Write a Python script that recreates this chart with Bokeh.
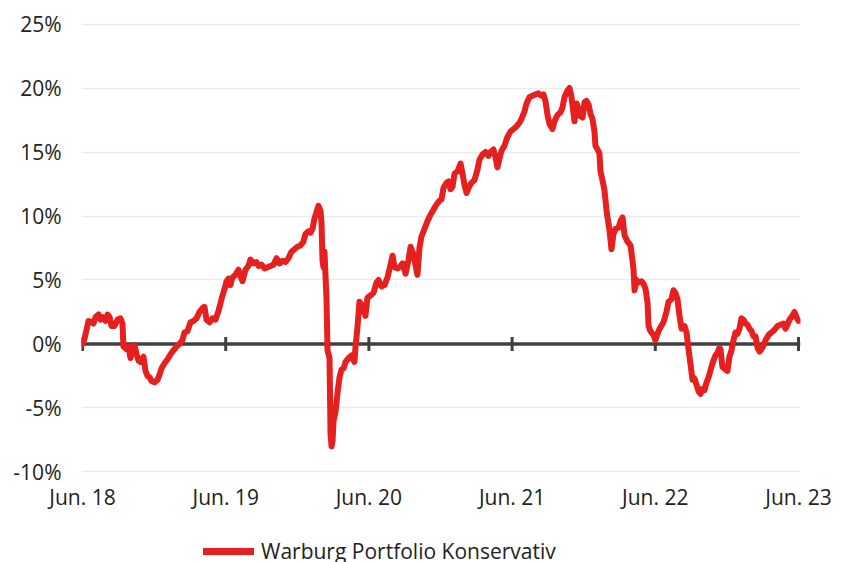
from bokeh.plotting import figure
from bokeh.layouts import column
from bokeh.models import FixedTicker, Legend, LegendItem, Span
from bokeh.embed import file_html
from bokeh.resources import INLINE

# x: years since end of June 2018, y: cumulative performance in %
years_since_jun18 = [
    0.000, 0.014, 0.028, 0.042, 0.063, 0.077, 0.091, 0.112, 0.126, 0.140,
    0.161, 0.175, 0.189, 0.203, 0.223, 0.244, 0.265, 0.279, 0.286, 0.307,
    0.321, 0.335, 0.349, 0.363, 0.377, 0.391, 0.405, 0.426, 0.440, 0.454,
    0.468, 0.482, 0.503, 0.524, 0.538, 0.552, 0.573, 0.594, 0.615, 0.635,
    0.656, 0.677, 0.698, 0.712, 0.733, 0.754, 0.775, 0.796, 0.817, 0.838,
    0.852, 0.866, 0.887, 0.908, 0.929, 0.950, 0.964, 0.978, 0.992, 1.006,
    1.020, 1.033, 1.047, 1.068, 1.089, 1.103, 1.117, 1.138, 1.159, 1.173,
    1.194, 1.215, 1.229, 1.250, 1.271, 1.292, 1.313, 1.334, 1.355, 1.376,
    1.397, 1.418, 1.438, 1.459, 1.480, 1.501, 1.522, 1.543, 1.557, 1.578,
    1.592, 1.606, 1.620, 1.634, 1.648, 1.662, 1.669, 1.676, 1.683, 1.690,
    1.704, 1.711, 1.725, 1.732, 1.739, 1.746, 1.753, 1.767, 1.781, 1.795,
    1.809, 1.823, 1.837, 1.858, 1.878, 1.899, 1.906, 1.920, 1.934, 1.948,
    1.962, 1.976, 1.990, 2.011, 2.032, 2.053, 2.067, 2.088, 2.109, 2.130,
    2.151, 2.165, 2.179, 2.200, 2.221, 2.235, 2.256, 2.277, 2.291, 2.311,
    2.325, 2.339, 2.353, 2.367, 2.388, 2.409, 2.430, 2.451, 2.472, 2.493,
    2.507, 2.521, 2.542, 2.556, 2.570, 2.584, 2.598, 2.619, 2.640, 2.654,
    2.668, 2.682, 2.696, 2.716, 2.737, 2.758, 2.772, 2.793, 2.814, 2.835,
    2.849, 2.870, 2.884, 2.898, 2.912, 2.926, 2.947, 2.968, 2.989, 3.010,
    3.031, 3.052, 3.066, 3.087, 3.101, 3.122, 3.142, 3.163, 3.184, 3.205,
    3.219, 3.233, 3.247, 3.261, 3.282, 3.296, 3.317, 3.338, 3.352, 3.366,
    3.387, 3.401, 3.415, 3.429, 3.436, 3.450, 3.464, 3.478, 3.492, 3.506,
    3.520, 3.534, 3.547, 3.561, 3.575, 3.582, 3.596, 3.610, 3.617, 3.631,
    3.645, 3.659, 3.666, 3.680, 3.694, 3.708, 3.722, 3.743, 3.757, 3.771,
    3.785, 3.806, 3.827, 3.841, 3.848, 3.855, 3.869, 3.883, 3.904, 3.918,
    3.932, 3.946, 3.953, 3.966, 3.987, 4.001, 4.022, 4.036, 4.057, 4.078,
    4.092, 4.113, 4.127, 4.141, 4.155, 4.169, 4.183, 4.204, 4.218, 4.232,
    4.246, 4.260, 4.274, 4.288, 4.302, 4.316, 4.330, 4.344, 4.358, 4.372,
    4.392, 4.406, 4.420, 4.434, 4.448, 4.455, 4.469, 4.490, 4.504, 4.518,
    4.532, 4.546, 4.560, 4.574, 4.588, 4.602, 4.616, 4.630, 4.644, 4.658,
    4.672, 4.686, 4.700, 4.714, 4.728, 4.742, 4.756, 4.770, 4.791, 4.811,
    4.832, 4.853, 4.874, 4.895, 4.909, 4.923, 4.937, 4.951, 4.972, 4.986,
    5.000,
]

portfolio_pct = [
    0.0, 0.4, 1.1, 1.8, 1.7, 1.6, 2.1, 2.3, 1.9, 2.1,
    1.8, 2.3, 2.1, 1.4, 1.4, 1.9, 2.0, 1.6, -0.2, -0.4,
    -0.2, -1.1, -0.3, -0.1, -0.8, -1.3, -1.4, -1.0, -2.1, -2.5,
    -2.6, -2.9, -3.0, -2.8, -2.4, -1.9, -1.5, -1.2, -0.8, -0.5,
    -0.2, 0.0, 0.3, 0.9, 1.0, 1.7, 1.8, 2.0, 2.5, 2.8,
    2.9, 1.9, 1.7, 2.0, 1.9, 2.6, 3.2, 3.8, 4.3, 4.9,
    5.1, 4.6, 5.2, 5.4, 5.8, 5.3, 4.9, 5.8, 6.1, 6.6,
    6.3, 6.4, 6.1, 6.2, 5.9, 6.0, 6.1, 6.2, 6.7, 6.3,
    6.5, 6.4, 6.7, 7.2, 7.4, 7.6, 7.7, 8.0, 8.6, 8.8,
    8.7, 9.0, 9.8, 10.3, 10.8, 10.4, 9.5, 6.5, 6.0, 7.2,
    3.5, -0.5, -1.1, -7.0, -8.0, -7.6, -6.0, -5.3, -3.8, -2.6,
    -2.0, -1.9, -1.4, -1.1, -0.9, -1.4, -0.3, 1.3, 3.3, 3.1,
    2.6, 2.2, 3.6, 3.8, 4.0, 4.8, 5.0, 4.5, 4.6, 5.2,
    6.2, 6.9, 6.0, 5.9, 6.1, 6.3, 5.5, 6.6, 7.6, 7.0,
    6.2, 5.4, 7.5, 8.4, 9.0, 9.6, 10.1, 10.5, 10.9, 11.2,
    11.3, 12.2, 12.6, 12.7, 12.1, 12.3, 13.3, 13.5, 14.1, 13.3,
    12.4, 11.8, 12.2, 12.6, 12.8, 13.6, 14.4, 14.8, 15.0, 14.7,
    15.0, 15.2, 14.6, 13.8, 14.5, 15.1, 15.5, 16.2, 16.6, 16.8,
    17.0, 17.3, 17.6, 18.2, 18.8, 19.3, 19.4, 19.5, 19.6, 19.4,
    19.5, 19.0, 17.9, 17.2, 16.8, 17.4, 17.9, 18.1, 18.5, 19.3,
    19.8, 20.0, 19.3, 18.0, 17.4, 18.8, 18.4, 17.8, 17.7, 18.9,
    19.0, 18.7, 18.0, 17.6, 16.6, 15.5, 15.2, 14.9, 13.5, 12.8,
    12.0, 10.5, 9.9, 8.9, 7.4, 8.6, 9.0, 9.1, 9.6, 9.9,
    8.5, 8.0, 7.7, 6.5, 5.8, 4.2, 5.0, 4.8, 4.9, 4.7,
    4.3, 3.2, 1.4, 1.0, 0.7, 0.3, 1.0, 1.3, 1.7, 2.5,
    3.3, 3.5, 4.2, 4.0, 3.5, 2.2, 1.2, 1.4, 0.9, -0.4,
    -1.6, -2.8, -2.7, -3.2, -3.7, -3.9, -3.5, -3.6, -3.0, -2.6,
    -1.8, -1.3, -0.9, -0.7, -0.3, -0.4, -1.8, -2.0, -2.1, -1.0,
    -0.5, 0.3, 0.9, 0.8, 1.2, 2.0, 1.9, 1.6, 1.5, 1.2,
    1.0, 0.6, 0.6, -0.3, -0.6, -0.4, -0.1, 0.3, 0.7, 0.9,
    1.1, 1.4, 1.5, 1.6, 1.2, 1.5, 1.9, 2.1, 2.5, 2.1,
    1.8,
]

x_tick_pos = [0, 1, 2, 3, 4, 5]
x_tick_labels = ["Jun. 18", "Jun. 19", "Jun. 20", "Jun. 21", "Jun. 22", "Jun. 23"]
y_tick_pos = [-10, -5, 0, 5, 10, 15, 20, 25]
y_tick_labels = ["-10%", "-5%", "0%", "5%", "10%", "15%", "20%", "25%"]
series_name = "Warburg Portfolio Konservativ"

FONT = "Open Sans"
TEXT = "#222222"
RED = "#e5201e"
DARK = "#404040"

# ---- main chart ----
p = figure(width=842, height=530, x_range=(-0.007, 5.014), y_range=(-10.2, 25.2),
           output_backend="svg", toolbar_location=None,
           min_border_left=81, min_border_right=42, min_border_top=21, min_border_bottom=56)
p.outline_line_color = None
p.background_fill_color = "white"
p.border_fill_color = "white"

p.xgrid.grid_line_color = None
p.ygrid.grid_line_color = "#ebebeb"
p.ygrid.grid_line_width = 1.5
p.yaxis.ticker = FixedTicker(ticks=y_tick_pos)
p.yaxis.major_label_overrides = {t: l for t, l in zip(y_tick_pos, y_tick_labels)}
p.xaxis.ticker = FixedTicker(ticks=x_tick_pos)
p.xaxis.major_label_overrides = {t: l for t, l in zip(x_tick_pos, x_tick_labels)}

for ax in (p.xaxis[0], p.yaxis[0]):
    ax.axis_line_color = None
    ax.major_tick_line_color = None
    ax.minor_tick_line_color = None
    ax.major_tick_out = 0
    ax.major_tick_in = 0
    ax.major_label_text_font = FONT
    ax.major_label_text_font_size = "21px"
    ax.major_label_text_color = TEXT
p.yaxis.major_label_standoff = 20
p.xaxis.major_label_standoff = 8

zero_line = Span(location=0, dimension="width", line_color=DARK, line_width=3.5, level="underlay")
p.add_layout(zero_line)
p.rect(x=x_tick_pos, y=0, width=3, height=14, width_units="screen", height_units="screen",
       fill_color=DARK, line_color=None)

p.line(years_since_jun18, portfolio_pct, line_color=RED, line_width=6,
       line_join="round", line_cap="round")

# ---- legend strip (partly cut off at the page bottom, as in the original) ----
leg = figure(width=842, height=32, x_range=(0, 1), y_range=(0, 1),
             output_backend="svg", toolbar_location=None,
             min_border=0, min_border_left=0, min_border_right=0,
             min_border_top=0, min_border_bottom=0)
leg.axis.visible = False
leg.grid.visible = False
leg.outline_line_color = None
leg.background_fill_color = "white"
leg.border_fill_color = "white"
# legend swatch only: no visible data point
swatch = leg.line(x=[float("nan")], y=[float("nan")], line_color=RED, line_width=7,
                  line_cap="round")

legend = Legend(items=[LegendItem(label=series_name, renderers=[swatch])],
                location=(122, -3), orientation="horizontal",
                border_line_color=None, background_fill_alpha=0,
                padding=0, margin=0, spacing=0,
                glyph_width=51, glyph_height=24, label_standoff=7,
                label_text_font=FONT, label_text_font_size="21px",
                label_text_color=TEXT)
leg.add_layout(legend)

layout = column(p, leg, spacing=0)
open("out.html", "w").write(file_html(layout, INLINE))
